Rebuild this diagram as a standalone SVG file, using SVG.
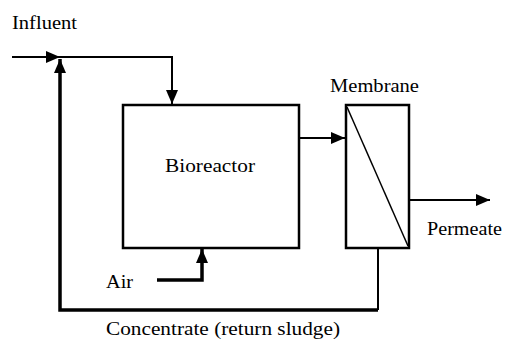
<svg xmlns="http://www.w3.org/2000/svg" width="505" height="349" viewBox="0 0 505 349">
<style>
.lbl{font-family:"Liberation Serif","Times New Roman",serif;font-size:19px;fill:#000}
.box{fill:#fff;stroke:#000;stroke-width:2.5}
.ln{fill:none;stroke:#000;stroke-width:2}
.thk{fill:none;stroke:#000;stroke-width:3.5}
</style>
<defs>
<marker id="ah" markerWidth="14" markerHeight="12" refX="14" refY="6" orient="auto" markerUnits="userSpaceOnUse">
<path d="M0,0 L14,6 L0,12 Z" fill="#000"/>
</marker>
</defs>
<rect width="505" height="349" fill="#fff"/>
<g id="connectors">
<polyline class="ln" points="12,57 60,57" marker-end="url(#ah)"/>
<polyline class="ln" points="58,57 172,57 172,104" marker-end="url(#ah)"/>
<polyline class="ln" points="378,248 378,310"/>
<polyline class="thk" points="378,310 60,310 60,59" marker-end="url(#ah)"/>
<polyline class="thk" points="157,280 202,280 202,249" marker-end="url(#ah)"/>
<polyline class="ln" points="299,138 345,138" marker-end="url(#ah)"/>
<polyline class="ln" points="409,200 490,200" marker-end="url(#ah)"/>
</g>
<g id="bioreactor">
<rect class="box" x="123" y="105" width="176" height="143"/>
<text class="lbl" x="165" y="172" textLength="90" lengthAdjust="spacingAndGlyphs">Bioreactor</text>
</g>
<g id="membrane">
<rect class="box" x="346" y="105" width="63" height="143"/>
<line x1="347" y1="107" x2="408" y2="246" stroke="#000" stroke-width="1.5"/>
<text class="lbl" x="330" y="92" textLength="89" lengthAdjust="spacingAndGlyphs">Membrane</text>
</g>
<g id="labels">
<text class="lbl" x="12" y="29" textLength="65" lengthAdjust="spacingAndGlyphs">Influent</text>
<text class="lbl" x="427" y="235" textLength="75" lengthAdjust="spacingAndGlyphs">Permeate</text>
<text class="lbl" x="106" y="288" textLength="27" lengthAdjust="spacingAndGlyphs">Air</text>
<text class="lbl" x="106" y="335" textLength="234" lengthAdjust="spacingAndGlyphs">Concentrate (return sludge)</text>
</g>
</svg>
